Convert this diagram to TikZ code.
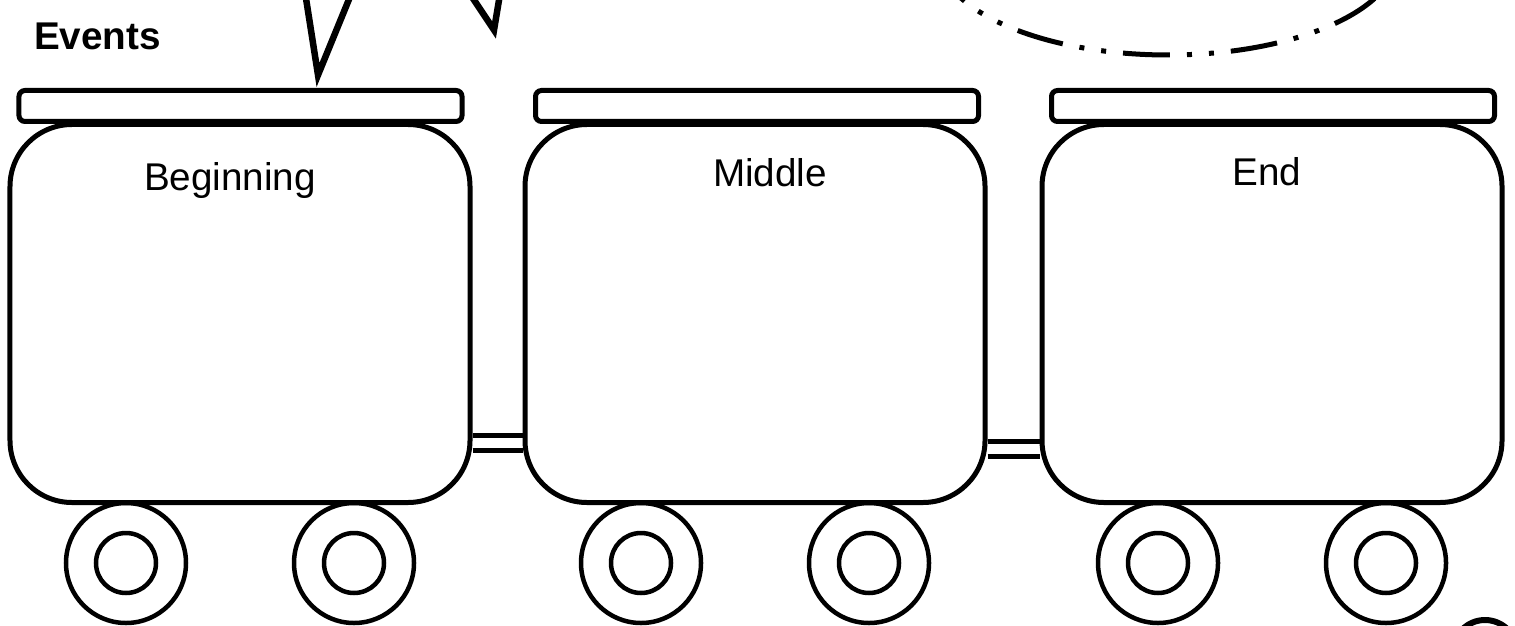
\documentclass[tikz,border=0pt]{standalone}
\usepackage{fontspec}
\setmainfont{Liberation Sans}
\usepackage{tikz}
\usetikzlibrary{positioning,calc}

\begin{document}
\begin{tikzpicture}[x=.2mm,y=-.2mm,
  carbody/.style={draw,line width=1mm,rounded corners=12.4mm,minimum width=92mm,minimum height=75.6mm,inner sep=0pt},
  roof/.style={draw,line width=1mm,rounded corners=1.2mm,minimum width=88.6mm,minimum height=6.2mm,inner sep=0pt},
  wheel/.style={draw,circle,line width=.9mm,minimum size=24mm,inner sep=0pt},
  hub/.style={draw,circle,line width=.9mm,minimum size=12mm,inner sep=0pt},
  cartitle/.style={anchor=base,font=\fontsize{22}{26}\selectfont},
  coupler/.style={line width=1mm},
  tail/.style={line width=1.3mm,miter limit=25}]
\clip (0,0) rectangle (1515,626);
% bubble tails and thought bubble coming in from above
\draw[tail] (305,-8) -- (318,75) -- (352,-8);
\draw[tail] (470,-6) -- (494,30) -- (500,-6);
\draw[line width=1mm,dash pattern=on 9.4mm off 3.4mm on 1mm off 3.4mm on 1mm off 3.4mm,dash phase=11.2mm] (1168,-46) ellipse [x radius=230,y radius=101];
\node[anchor=base west,font=\fontsize{22}{26}\selectfont\bfseries] (events) at (28,50) {Events};
% the three cars
\node[carbody] (begcar) at (240,313.5) {};
\node[carbody] (midcar) at (755,313.5) {};
\node[carbody] (endcar) at (1272,313.5) {};
\node[roof] (begroof) at (240.5,106) {};
\node[roof] (midroof) at (757,106) {};
\node[roof] (endroof) at (1273,106) {};
\node[cartitle] (begtitle) at (230,191) {Beginning};
\node[cartitle] (midtitle) at (770,187) {Middle};
\node[cartitle] (endtitle) at (1267,186) {End};
% couplers
\draw[coupler] (begcar.east |- 0,435.5) -- (midcar.west |- 0,435.5);
\draw[coupler] (begcar.east |- 0,450.5) -- (midcar.west |- 0,450.5);
\draw[coupler] (midcar.east |- 0,441) -- (endcar.west |- 0,441);
\draw[coupler] (midcar.east |- 0,456) -- (endcar.west |- 0,456);
% wheels
\foreach \car/\x in {begcar/240,midcar/755,endcar/1272}{
  \node[wheel] (\car-front) at (\x-114,563) {};
  \node[hub] (\car-fronthub) at (\car-front) {};
  \node[wheel] (\car-back) at (\x+114,563) {};
  \node[hub] (\car-backhub) at (\car-back) {};
}
\draw[line width=1.2mm] (1485,652) circle[radius=32];
\end{tikzpicture}
\end{document}
